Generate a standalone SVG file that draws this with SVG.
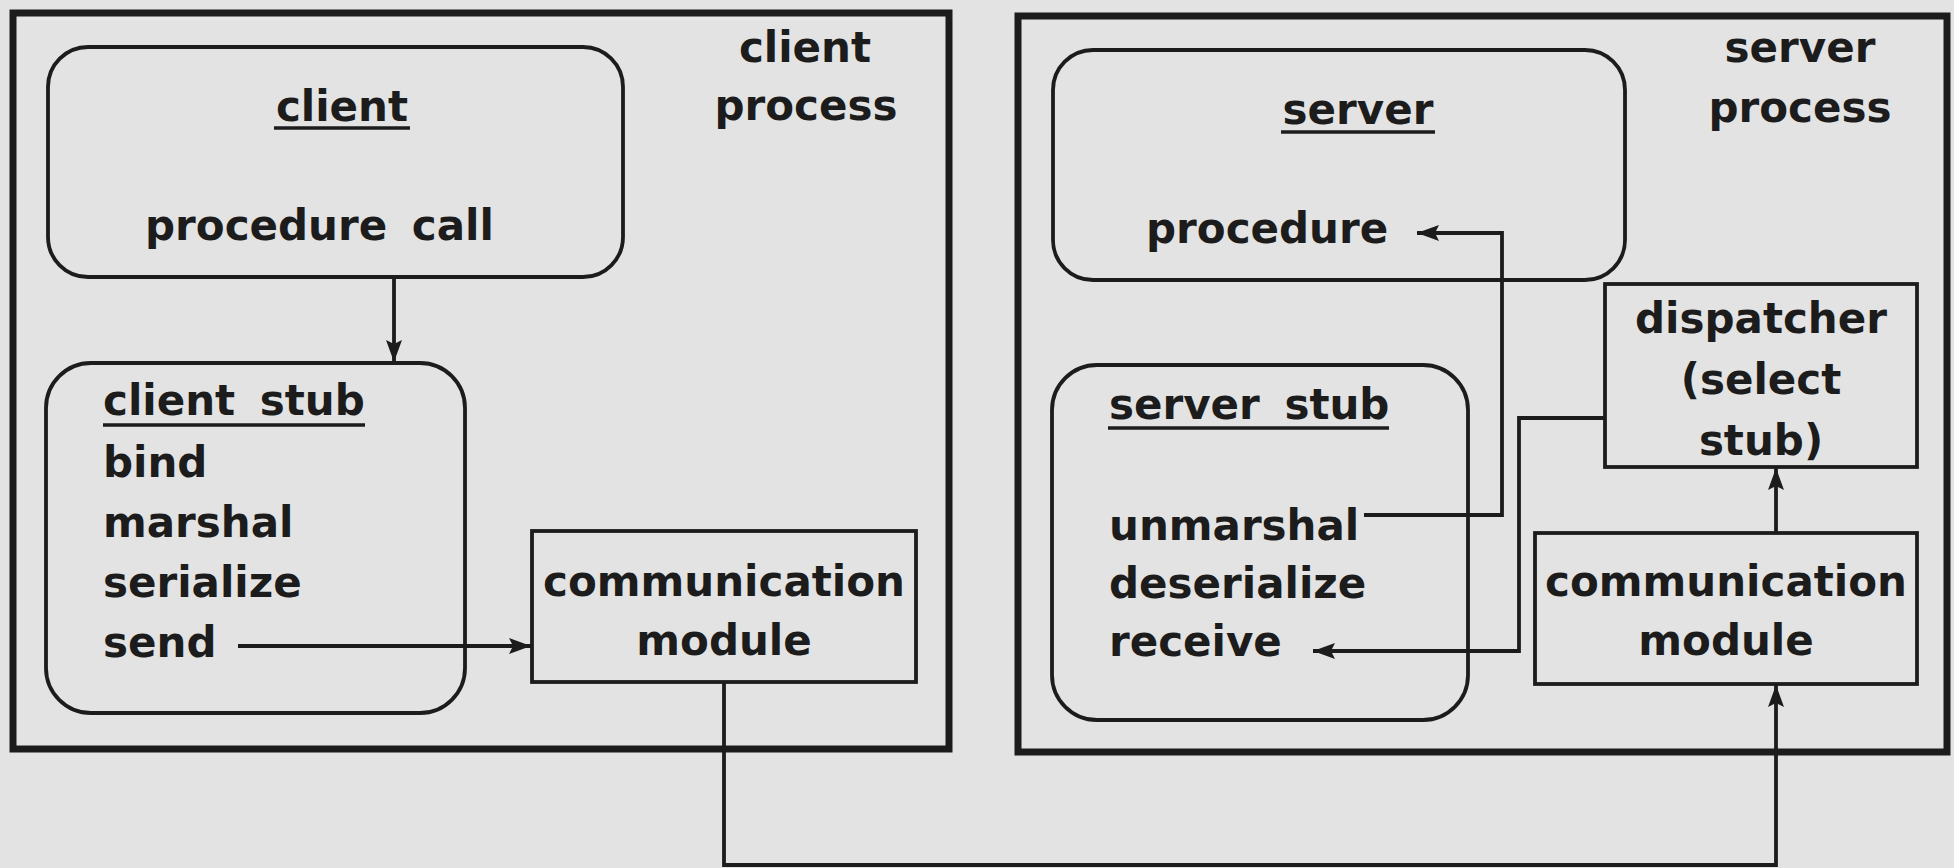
<svg xmlns="http://www.w3.org/2000/svg" width="1954" height="868" viewBox="0 0 1954 868">
  <style>
    .bg { fill: #e3e3e3; }
    .outer { fill: none; stroke: #1c1c1c; stroke-width: 7; }
    .box { fill: none; stroke: #1c1c1c; stroke-width: 3.8; }
    .t { font-family: "DejaVu Sans", "Liberation Sans", sans-serif; font-weight: bold; font-size: 42px; fill: #1c1c1c; }
    .mid { text-anchor: middle; }
    .ws { word-spacing: 10px; }
    .ul { stroke: #1c1c1c; stroke-width: 3.5; }
    .conn { fill: none; stroke: #1c1c1c; stroke-width: 3.8; stroke-linejoin: miter; }
  </style>
  <defs>
    <marker id="ah" markerUnits="userSpaceOnUse" markerWidth="24" markerHeight="18" refX="22" refY="8" orient="auto">
      <path d="M0,0 L22,8 L0,16 L4,8 z" fill="#1c1c1c"/>
    </marker>
  </defs>
  <rect class="bg" x="0" y="0" width="1954" height="868"/>

  <g id="client-process">
    <rect class="outer" x="13" y="13" width="936" height="736"/>
    <text class="t mid" x="805" y="62">client</text>
    <text class="t mid" x="806" y="120">process</text>
  </g>

  <g id="server-process">
    <rect class="outer" x="1018" y="16" width="929" height="736"/>
    <text class="t mid" x="1800" y="62">server</text>
    <text class="t mid" x="1800" y="122">process</text>
  </g>

  <g id="client">
    <rect class="box" x="48" y="47" width="575" height="230" rx="40" ry="40"/>
    <text class="t mid" x="342" y="121">client</text>
    <line class="ul" x1="274" y1="128" x2="410" y2="128"/>
    <text class="t ws" x="145" y="240">procedure call</text>
  </g>

  <g id="client-stub">
    <rect class="box" x="46" y="363" width="419" height="350" rx="45" ry="45"/>
    <text class="t ws" x="103" y="415">client stub</text>
    <line class="ul" x1="103" y1="425" x2="365" y2="425"/>
    <text class="t" x="103" y="477">bind</text>
    <text class="t" x="103" y="537">marshal</text>
    <text class="t" x="103" y="597">serialize</text>
    <text class="t" x="103" y="657">send</text>
  </g>

  <g id="client-comm">
    <rect class="box" x="532" y="531" width="384" height="151"/>
    <text class="t mid" x="724" y="596">communication</text>
    <text class="t mid" x="724" y="655">module</text>
  </g>

  <g id="server">
    <rect class="box" x="1053" y="50" width="572" height="230" rx="40" ry="40"/>
    <text class="t mid" x="1358" y="124">server</text>
    <line class="ul" x1="1281" y1="132" x2="1435" y2="132"/>
    <text class="t" x="1146" y="243">procedure</text>
  </g>

  <g id="server-stub">
    <rect class="box" x="1052" y="365" width="416" height="355" rx="45" ry="45"/>
    <text class="t ws" x="1109" y="419">server stub</text>
    <line class="ul" x1="1108" y1="428" x2="1389" y2="428"/>
    <text class="t" x="1109" y="540">unmarshal</text>
    <text class="t" x="1109" y="598">deserialize</text>
    <text class="t" x="1109" y="656">receive</text>
  </g>

  <g id="dispatcher">
    <rect class="box" x="1605" y="284" width="312" height="183"/>
    <text class="t mid" x="1761" y="333">dispatcher</text>
    <text class="t mid" x="1761" y="394">(select</text>
    <text class="t mid" x="1761" y="455">stub)</text>
  </g>

  <g id="server-comm">
    <rect class="box" x="1535" y="533" width="382" height="151"/>
    <text class="t mid" x="1726" y="596">communication</text>
    <text class="t mid" x="1726" y="655">module</text>
  </g>

  <g id="connectors">
    <path class="conn" d="M394,277 L394,362" marker-end="url(#ah)"/>
    <path class="conn" d="M238,646 L531,646" marker-end="url(#ah)"/>
    <path class="conn" d="M724,682 L724,865 L1776,865 L1776,685" marker-end="url(#ah)"/>
    <path class="conn" d="M1776,533 L1776,468" marker-end="url(#ah)"/>
    <path class="conn" d="M1605,418 L1519,418 L1519,651 L1313,651" marker-end="url(#ah)"/>
    <path class="conn" d="M1364,515 L1502,515 L1502,233 L1417,233" marker-end="url(#ah)"/>
  </g>
</svg>
